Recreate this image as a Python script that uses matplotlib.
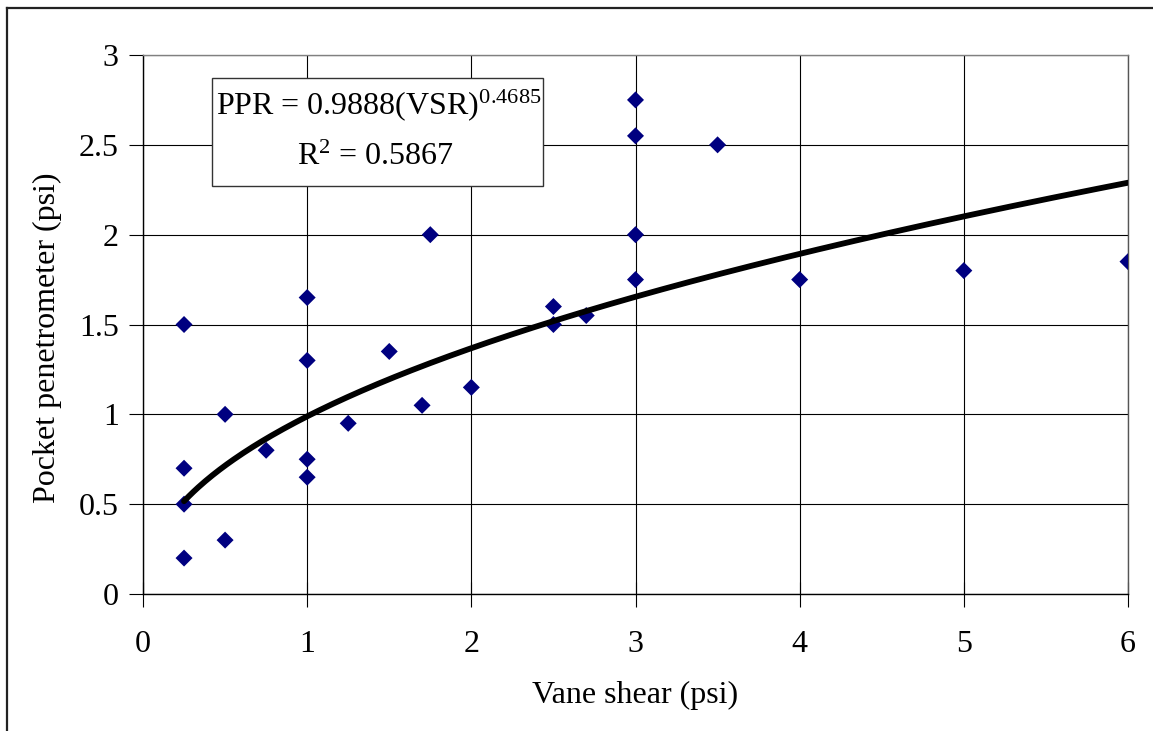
import numpy as np
import matplotlib
matplotlib.use("Agg")
import matplotlib.pyplot as plt
from matplotlib.patches import Rectangle
from matplotlib.lines import Line2D

# Data
vane_shear = [0.25, 0.25, 0.25, 0.25, 0.5, 0.5, 0.75, 1.0, 1.0, 1.0, 1.0,
              1.25, 1.5, 1.7, 1.75, 2.0, 2.5, 2.5, 2.7, 3.0, 3.0, 3.0, 3.0,
              3.5, 4.0, 5.0, 6.0]
pocket_pen = [1.5, 0.7, 0.5, 0.2, 1.0, 0.3, 0.8, 1.65, 1.3, 0.75, 0.65,
              0.95, 1.35, 1.05, 2.0, 1.15, 1.6, 1.5, 1.55, 2.75, 2.55, 2.0, 1.75,
              2.5, 1.75, 1.8, 1.85]
fit_coef = 0.9888
fit_exp = 0.4685
r_squared = 0.5867
x_ticks = [0, 1, 2, 3, 4, 5, 6]
y_ticks = [0, 0.5, 1, 1.5, 2, 2.5, 3]
y_tick_labels = ["0", "0.5", "1", "1.5", "2", "2.5", "3"]

plt.rcParams['font.family'] = ['Liberation Serif', 'DejaVu Serif']
plt.rcParams['mathtext.fontset'] = 'custom'
plt.rcParams['mathtext.rm'] = 'Liberation Serif'
plt.rcParams['mathtext.it'] = 'Liberation Serif'

W, H = 1153, 731
fig = plt.figure(figsize=(W / 100, H / 100), dpi=100)
ax = fig.add_axes([143 / W, 1 - 594 / H, (1128 - 143) / W, (594 - 55) / H])

ax.set_xlim(0, 6)
ax.set_ylim(0, 3)
ax.set_xticks(x_ticks)
ax.set_yticks(y_ticks)
ax.set_yticklabels(y_tick_labels)
ax.grid(True, color='black', linewidth=0.8)
ax.set_axisbelow(True)
for s in ax.spines.values():
    s.set_linewidth(1.0)
    s.set_color('black')
ax.spines['top'].set_color('#808080')
ax.spines['right'].set_color('#555555')
ax.tick_params(axis='y', direction='out', length=10, width=0.8, labelsize=23, pad=7.5)
ax.tick_params(axis='x', direction='inout', length=18, width=0.8, labelsize=23, pad=17)

ax.scatter(vane_shear, pocket_pen, marker='D', s=75, color='#000080',
           edgecolors='none', zorder=3)

xf = np.linspace(min(vane_shear), max(vane_shear), 400)
ax.plot(xf, fit_coef * xf ** fit_exp, color='black', linewidth=4.2,
        solid_capstyle='round', zorder=4)

ax.set_xlabel('Vane shear (psi)', fontsize=23)
ax.set_ylabel('Pocket penetrometer (psi)', fontsize=23)
ax.xaxis.set_label_coords(635 / W, 1 - 695 / H, transform=fig.transFigure)
ax.xaxis.label.set_va('center')
ax.yaxis.set_label_coords(47 / W, 1 - 338 / H, transform=fig.transFigure)
ax.yaxis.label.set_va('center')

# Equation box
bx0, by0, bx1, by1 = 212, 78, 543, 186
fig.patches.append(Rectangle((bx0 / W, 1 - by1 / H), (bx1 - bx0) / W, (by1 - by0) / H,
                             transform=fig.transFigure, facecolor='white',
                             edgecolor='#333333', linewidth=1.0, zorder=5))
fig.text(379 / W, 1 - 114 / H,
         'PPR = %.4f(VSR)$^{%.4f}$' % (fit_coef, fit_exp),
         ha='center', va='baseline', fontsize=23, zorder=6)
fig.text(375 / W, 1 - 165 / H, 'R$^{2}$ = %.4f' % r_squared,
         ha='center', va='baseline', fontsize=23, zorder=6)

# Outer chart border (left and top)
fig.lines.append(Line2D([7 / W, 7 / W], [0, 1 - 8 / H], transform=fig.transFigure,
                        color='#222222', linewidth=1.6))
fig.lines.append(Line2D([7 / W, 1], [1 - 8 / H, 1 - 8 / H], transform=fig.transFigure,
                        color='#222222', linewidth=1.6))

fig.savefig('out.png', dpi=100)
